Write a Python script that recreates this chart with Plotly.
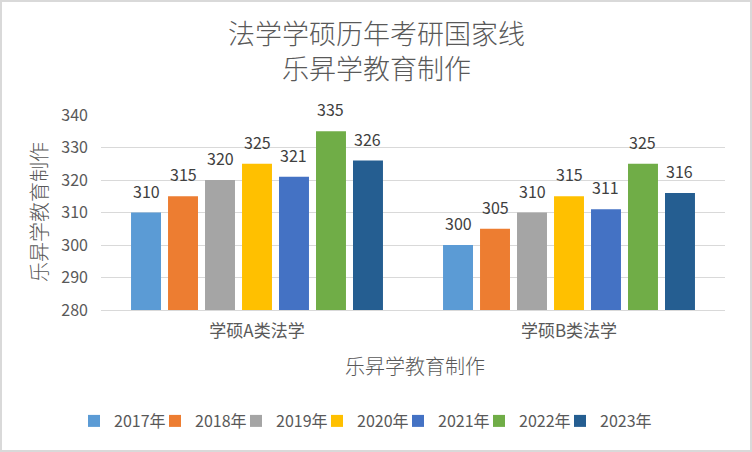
import plotly.graph_objects as go

categories = ["学硕A类法学", "学硕B类法学"]
years = ["2017年", "2018年", "2019年", "2020年", "2021年", "2022年", "2023年"]
values = {
    "2017年": [310, 300],
    "2018年": [315, 305],
    "2019年": [320, 310],
    "2020年": [325, 315],
    "2021年": [321, 311],
    "2022年": [335, 325],
    "2023年": [326, 316],
}
colors = ["#5B9BD5", "#ED7D31", "#A5A5A5", "#FFC000", "#4472C4", "#70AD47", "#255E91"]

title_lines = ["法学学硕历年考研国家线", "乐昇学教育制作"]
axis_title = "乐昇学教育制作"

FONT = "Noto Sans CJK SC, Noto Sans, sans-serif"
W, H = 752, 452
L, R, T, B = 101, 27, 115, 142
PW, PH = W - L - R, H - T - B

def px_x(p):
    return (p - L) / PW

def px_y(p):
    return (H - B - p) / PH

bargap = 0.17
fig = go.Figure()
for i, yr in enumerate(years):
    fig.add_trace(go.Bar(
        name=yr, x=categories, y=values[yr],
        marker=dict(color=colors[i], line=dict(width=0)),
        legendwidth=(70 if i == len(years) - 1 else 36),
    ))

# data labels above bars
n = len(years)
slot = (1 - bargap) / n
annotations = []
for i, yr in enumerate(years):
    for c, v in enumerate(values[yr]):
        annotations.append(dict(
            x=c - 0.5 + bargap / 2 + slot * (i + 0.5), y=v, xref="x", yref="y",
            text=str(v), showarrow=False, yanchor="middle", yshift=22,
            font=dict(family=FONT, size=16, color="#404040"),
        ))

# title (two lines)
annotations.append(dict(
    x=px_x(376), y=px_y(50), xref="paper", yref="paper",
    text="<br>".join(title_lines), showarrow=False, xanchor="center", yanchor="middle",
    font=dict(family=FONT, size=27, color="#595959", weight=300),
))
annotations.append(dict(
    x=px_x(415), y=px_y(365), xref="paper", yref="paper", text=axis_title,
    showarrow=False, xanchor="center", yanchor="middle",
    font=dict(family=FONT, size=20, color="#595959", weight=300),
))
annotations.append(dict(
    x=px_x(38), y=px_y(212), xref="paper", yref="paper", text=axis_title,
    showarrow=False, xanchor="center", yanchor="middle", textangle=-90,
    font=dict(family=FONT, size=20, color="#595959", weight=300),
))

fig.update_layout(
    width=W, height=H,
    margin=dict(l=L, r=R, t=T, b=B),
    paper_bgcolor="white", plot_bgcolor="white",
    barmode="group", bargap=bargap, bargroupgap=0.19,
    showlegend=True,
    legend=dict(
        orientation="h", xanchor="left", yanchor="middle",
        x=px_x(74), y=px_y(421),
        entrywidthmode="pixels",
        font=dict(family=FONT, size=16, color="#595959"),
        bgcolor="rgba(0,0,0,0)",
    ),
    annotations=annotations,
    xaxis=dict(
        type="category", showgrid=False, showline=True, linecolor="#d9d9d9",
        linewidth=1, ticks="", ticklabelstandoff=6,
        tickfont=dict(family=FONT, size=17, color="#595959"),
    ),
    yaxis=dict(
        range=[280, 340], dtick=10, showgrid=True, gridcolor="#d9d9d9",
        gridwidth=1, zeroline=False, showline=False, ticks="",
        ticklabelstandoff=12,
        tickfont=dict(family=FONT, size=16, color="#595959"),
    ),
    shapes=[dict(
        type="rect", xref="paper", yref="paper",
        x0=px_x(1), x1=px_x(751), y0=px_y(451), y1=px_y(1),
        line=dict(color="#d9d9d9", width=2), layer="above",
    )],
)

fig.write_html(
    "out.html",
    config={"displayModeBar": False},
    post_script="document.body.style.margin='0';",
)
